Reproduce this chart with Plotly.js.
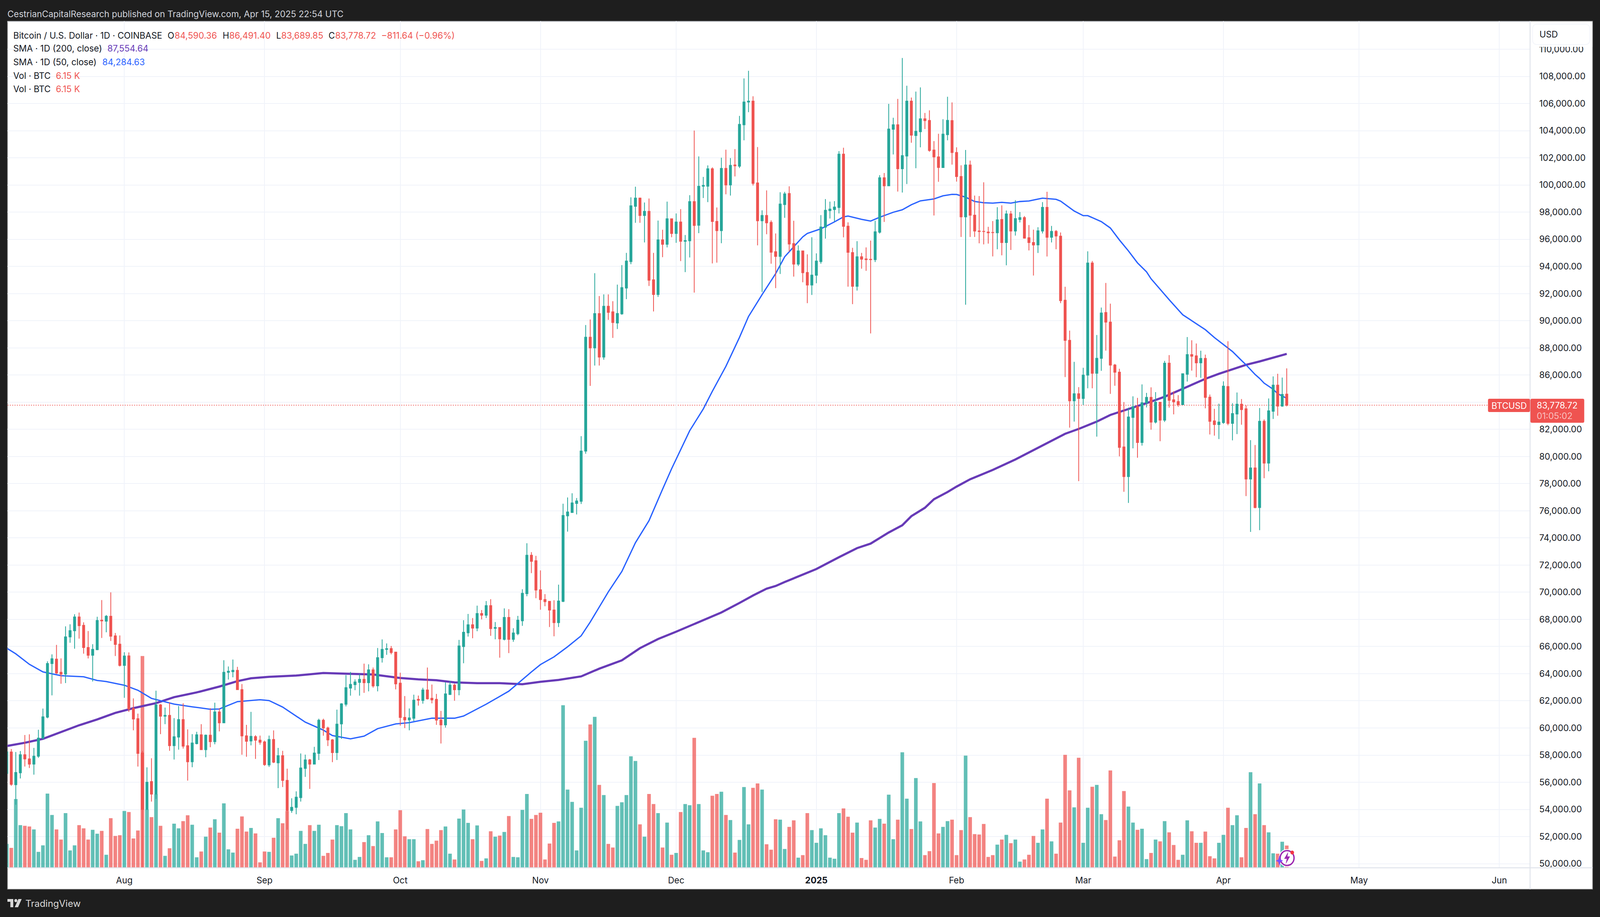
<!DOCTYPE html>
<html><head><meta charset="utf-8">
<script src="https://cdn.plot.ly/plotly-3.0.1.min.js"></script>
<style>html,body{margin:0;padding:0;background:#1e1e1e;overflow:hidden}</style>
</head><body><div id="c"></div>
<script>
// Daily BTC/USD candles, Jul 6 2024 .. Apr 15 2025 (one line per month)
const firstDay = [2024, 6, 6];
const open = [
56650,58230,55820,56700,58030,57720,57340,57920,59250,60800,64750,65070,64100,63970,66710,67160,68180,67560,65930,65360,65770,67940,67870,68230,66780,66170,
64610,65310,61430,60680,58160,54000,56050,55130,61700,60870,60930,58700,59330,60620,58690,57510,58850,59500,58400,59470,58990,61180,60380,64100,64150,64240,62830,59420,59040,59360,59100,
58970,57280,59150,57430,57960,56140,53920,54150,54870,57020,57650,57340,58130,60570,60000,59120,58190,60300,61750,62940,63190,63360,63580,63340,64280,63110,65180,65790,65850,65590,
63300,60780,60600,60720,62110,62030,62800,62190,62110,60580,60230,62470,63160,62820,66000,67010,67600,67360,68430,68310,69010,67340,67400,66530,68140,66530,66950,67900,69900,72720,72320,
70180,69460,69330,68690,67760,69330,75630,75870,76540,76700,80400,88780,88000,90520,87320,91060,90650,89830,90510,92410,94360,98430,99030,97750,98050,93010,91930,95950,95630,97510,
96430,97270,95850,95890,98770,97030,99910,99910,101190,97310,96640,101220,100000,101470,101380,104430,106110,106170,100150,97360,97750,97240,95080,94740,98560,99370,95680,94170,95140,93550,92630,
93350,94360,96890,98110,98190,98340,102270,96960,95020,92540,94710,94550,94520,94500,96520,100530,99940,104100,104430,101200,102130,106170,103640,103920,104870,104750,102570,102070,101280,103710,104740,
102390,100620,97650,101470,97770,96610,96580,96530,96500,96480,97460,95760,97870,96610,97460,97590,96110,95760,95590,96610,98350,96150,96580,96230,91510,88550,84100,84620,
84270,85990,94250,86130,87230,90600,89900,86730,86210,80700,78520,82880,83670,81030,83960,84350,82530,83990,82680,86870,84170,84040,83820,86060,87500,87410,86900,87220,84370,82620,82350,
82500,85150,82440,83130,83850,83510,78340,79150,76240,82590,79510,83330,85250,83710,84590.36];
const high = [
58400,58450,58230,58300,59480,59530,58530,59870,61430,64910,65420,66120,65130,67490,67640,68380,68500,67780,67140,66170,68190,69420,68320,69990,67000,66820,
65580,65570,62180,61060,58320,57100,57770,62750,61770,61500,61880,60730,61620,61820,59900,59550,59720,60280,59520,61460,61860,61450,64990,64530,65040,64500,63240,60230,61190,59470,59440,
59070,59440,59820,58530,58320,57000,54820,55330,58120,58040,57720,58610,60680,60680,60100,59190,61350,61830,63900,64130,63580,63970,64740,64690,64450,65890,66520,66230,66040,65610,
64070,62350,61440,62450,62390,62960,64450,63200,62510,61260,63360,63460,63260,66490,67940,68400,68100,69010,68690,69350,69490,67800,67400,68810,68750,67350,68260,70220,73610,72950,72680,
71610,69860,69350,69410,70560,76520,76980,77290,76940,81500,89680,90090,93500,91820,91940,91940,91440,92660,94100,95000,99090,99870,99070,98710,99000,95000,97380,96700,98770,97530,
97900,98220,96310,99250,104010,102100,100590,101440,101300,98340,102010,102600,101980,102640,105090,107850,108410,106530,102790,98130,99600,97390,96430,99460,99490,99900,97360,95550,95170,94890,96150,
94960,97780,98960,98770,98810,102490,102740,97250,95370,95860,95000,95400,95900,97360,100720,100880,105970,104950,106340,109350,107310,106440,106880,107190,105300,105500,103230,103770,104840,106500,106080,
102770,101450,102580,101790,99220,99180,100200,96920,97340,98360,98500,98120,98090,98880,98000,97710,97050,96710,96890,98740,99500,96980,96680,96500,92500,89270,86970,85110,
86530,95110,94400,88950,90970,92780,91260,86820,86460,84010,83600,84430,84320,85310,84680,85090,84740,83990,87040,87470,84800,84520,86120,88800,88560,88320,87790,87500,84560,83510,83890,
85530,88490,83920,84710,84230,83770,81200,80840,83570,82730,84270,85900,86090,85810,86491.40];
const low = [
56000,55740,54350,56280,57160,57050,56560,57800,59170,60710,62400,63980,63260,63310,66280,65840,66580,65470,65120,63420,65730,66630,67050,66410,65300,64530,
62220,61190,59830,57160,49700,54000,54580,54770,59550,60280,58320,57680,58400,58480,56120,57110,58790,58400,57840,58580,58800,59750,60380,63570,63730,62830,58030,57880,58720,57720,58770,
57210,57130,57410,55570,55650,52510,53750,53640,54580,56400,55510,57360,57640,59430,58670,57480,57640,59200,61590,62380,62780,62380,62590,62700,62970,62700,64820,65390,65420,62840,
60170,59990,59830,60510,61650,61790,62090,61810,60230,58860,60030,62430,62010,62410,64770,66730,66610,67130,68000,68100,66790,66530,65180,66450,65520,66350,66830,67520,69700,71410,69560,
68710,68970,67440,66750,67440,69270,74460,75910,75730,76500,80200,85200,86700,86700,87130,90060,88730,89390,90440,91590,94160,97210,97210,95770,92560,90680,91750,94680,95400,96150,
95740,94390,93580,94660,92070,96450,99040,98740,94220,94280,95710,99310,99220,100630,101250,103290,105360,99960,95550,92120,96370,94200,92400,93440,97580,95080,93250,94030,92830,91290,91900,
92760,94200,96050,97530,97310,97900,96140,92510,91220,92220,93830,93670,89060,94320,96420,97280,99930,102250,99510,99440,100070,103110,101230,102770,104120,102450,97750,100230,101280,103290,101500,
100250,96170,91180,96170,96170,95700,95620,95680,94740,95260,94820,94080,95210,96270,97240,96050,95180,93330,94990,96430,94730,95770,95260,91290,85850,82120,82570,78180,
83790,85020,85020,81460,86310,87800,84610,85210,80010,77400,76580,80600,79910,80800,83610,81970,82430,81120,82540,83600,83100,83660,83790,85520,86320,85840,85800,83550,81620,81530,81280,
82400,82300,81190,81650,82340,77080,74440,76180,74570,78400,78910,82760,83000,83660,83689.85];
const close = [
58240,55850,56720,58030,57720,57340,57920,59250,60820,64750,65100,64050,63970,66710,67170,68180,67540,65930,65360,65790,67920,67890,68230,66760,66160,64610,
65300,61400,60660,58130,54000,56000,55130,61700,60870,60930,58700,59350,60620,58660,57510,58890,59500,58400,59470,58990,61180,60380,64100,64180,64240,62830,59420,59020,59380,59100,58950,
57300,59150,57480,57960,56140,53920,54150,54900,57050,57650,57340,58150,60570,60000,59120,58190,60280,61780,62970,63210,63390,63580,63340,64280,63100,65180,65790,65840,65560,63250,
60780,60600,60740,62050,62050,62800,62150,62070,60580,60230,62510,63160,62820,66040,67050,67600,67360,68430,68310,69010,67320,67400,66570,68140,66530,67000,67940,69920,72720,72280,70160,
69460,69310,68690,67760,69350,75650,75910,76580,76720,80400,88780,88000,90520,87320,91060,90620,89870,90530,92440,94390,98460,99030,97750,98050,92980,91930,95950,95630,97510,96430,
97270,95850,95900,98770,97020,99900,99970,101190,97310,96640,101220,100000,101440,101410,104460,106110,106170,100120,97360,97750,97210,95050,94740,98590,99340,95650,94170,95140,93540,92630,93360,
94390,96900,98130,98220,98370,102270,96950,95040,92540,94710,94540,94500,94500,96550,100530,99940,104120,104430,101200,102160,106170,103670,103950,104870,104740,102540,102070,101290,103740,104760,102390,
100620,97650,101470,97770,96610,96570,96570,96480,96490,97430,95760,97870,96610,97520,97590,96080,95760,95580,96620,98350,96150,96580,96240,91480,88550,84100,84620,84270,
85990,94250,86130,87230,90570,89900,86730,86210,80670,78520,82910,83660,81030,83960,84350,82530,83990,82680,86870,84140,84020,83820,86090,87500,87390,86900,87220,84350,82590,82350,82530,
85180,82440,83160,83850,83450,78340,79150,76240,82590,79510,83360,85250,83710,84570,83778.72];
// Volume in thousands of BTC
const volumeK = [
6.6,5.5,19.0,11.8,11.6,11.4,10.6,4.4,6.2,20.5,14.6,10.6,7.8,15.1,4.8,6.2,11.8,10.9,7.8,10.5,9.4,10.2,3.6,13.7,8.8,9.0,
15.7,15.4,8.1,10.3,58.5,16.1,14.0,20.3,11.6,3.3,5.4,12.2,10.9,12.9,14.5,11.9,2.9,4.5,8.6,11.1,13.4,9.7,17.8,5.1,4.2,10.8,14.2,10.0,11.0,9.5,1.5,
4.5,4.4,8.3,13.7,12.3,15.7,3.4,3.9,10.2,6.6,11.8,10.2,11.9,3.3,4.1,7.8,11.8,11.5,15.1,10.6,2.2,3.0,7.1,9.0,6.0,12.8,9.6,2.9,2.9,10.6,
15.9,8.7,7.9,7.9,1.8,2.1,10.7,6.6,7.5,10.4,11.4,3.9,2.3,13.6,16.1,12.4,7.9,11.7,1.9,2.6,10.1,8.6,8.9,9.9,14.3,3.0,2.9,16.0,20.4,13.5,14.6,
15.2,2.3,6.7,12.4,12.8,44.9,21.6,18.2,4.8,16.6,35.1,39.6,41.7,22.9,20.1,6.6,5.6,17.1,18.1,20.1,30.8,29.5,12.0,8.6,20.4,17.6,15.1,5.6,12.5,3.6,
4.1,15.4,17.6,17.3,35.9,17.6,4.8,4.3,19.9,20.4,21.0,14.6,13.2,4.2,7.7,22.3,12.0,22.1,23.3,21.6,6.5,5.0,13.4,13.3,5.2,11.3,13.1,2.8,3.5,15.1,10.4,
6.9,10.9,9.0,2.8,2.5,15.1,16.4,14.1,9.7,12.5,2.7,2.2,13.1,11.1,13.5,12.2,20.2,7.9,13.3,31.9,19.1,10.7,24.8,12.8,3.5,4.6,23.4,9.5,11.3,12.9,13.3,
3.5,10.4,31.0,14.0,9.3,9.2,12.1,3.0,3.5,6.4,7.8,9.1,6.8,7.8,1.7,2.3,3.6,8.8,6.9,10.6,19.1,7.3,3.9,12.5,31.2,21.4,16.7,30.4,
6.9,16.6,22.4,22.9,14.8,13.2,26.9,3.1,7.6,21.2,16.9,12.5,10.5,10.8,2.4,4.1,7.8,7.3,12.9,9.8,6.3,2.2,3.6,13.1,10.1,6.9,6.9,10.0,3.2,2.6,6.9,
9.1,16.6,11.8,14.5,2.9,11.0,26.4,14.8,23.3,11.8,9.8,4.0,3.9,7.2,6.15];

// SMA(50)
const sma50Dates = ["2024-07-06","2024-07-08","2024-07-11","2024-07-14","2024-07-18","2024-07-23","2024-07-26","2024-07-28","2024-08-01","2024-08-04","2024-08-07","2024-08-12","2024-08-16","2024-08-20","2024-08-22","2024-08-24","2024-08-26","2024-08-31","2024-09-02","2024-09-05","2024-09-10","2024-09-14","2024-09-16","2024-09-20","2024-09-23","2024-09-26","2024-09-30","2024-10-03","2024-10-08","2024-10-13","2024-10-15","2024-10-20","2024-10-25","2024-10-30","2024-11-01","2024-11-04","2024-11-07","2024-11-10","2024-11-12","2024-11-16","2024-11-19","2024-11-22","2024-11-25","2024-11-28","2024-11-30","2024-12-04","2024-12-07","2024-12-09","2024-12-12","2024-12-15","2024-12-17","2024-12-20","2024-12-23","2024-12-25","2024-12-27","2024-12-29","2024-12-30","2025-01-02","2025-01-05","2025-01-07","2025-01-08","2025-01-11","2025-01-13","2025-01-15","2025-01-18","2025-01-20","2025-01-22","2025-01-24","2025-01-27","2025-01-29","2025-01-31","2025-02-01","2025-02-03","2025-02-05","2025-02-07","2025-02-09","2025-02-11","2025-02-13","2025-02-15","2025-02-17","2025-02-20","2025-02-23","2025-02-24","2025-02-27","2025-03-01","2025-03-02","2025-03-05","2025-03-07","2025-03-09","2025-03-11","2025-03-13","2025-03-15","2025-03-16","2025-03-18","2025-03-20","2025-03-22","2025-03-23","2025-03-26","2025-03-28","2025-03-30","2025-04-01","2025-04-03","2025-04-05","2025-04-06","2025-04-08","2025-04-09","2025-04-10","2025-04-12","2025-04-13","2025-04-15"];
const sma50Values = [65880,65460,64690,64130,63850,63770,63500,63420,63150,62780,62180,61760,61560,61380,61400,61670,61940,62080,62020,61540,60430,59840,59440,59200,59400,59950,60300,60390,60720,60720,60880,61750,62710,64130,64670,65240,65980,66790,67800,70020,71530,73650,75270,77590,79100,81900,83500,84800,86640,88770,90310,91920,93470,94710,95450,96180,96430,96770,97280,97650,97710,97470,97340,97620,97990,98170,98540,98830,98970,99200,99310,99300,99100,98780,98690,98660,98720,98660,98780,98820,99030,98940,98810,98080,97740,97740,97300,96830,95950,95140,94260,93600,93090,92310,91550,90810,90440,89780,89340,88760,88240,87730,87070,86750,86040,85750,85400,84950,84620,84284.63];
// SMA(200)
const sma200Dates = ["2024-07-06","2024-07-10","2024-07-14","2024-07-18","2024-07-22","2024-07-26","2024-07-30","2024-08-03","2024-08-08","2024-08-12","2024-08-17","2024-08-22","2024-08-26","2024-08-29","2024-09-02","2024-09-08","2024-09-14","2024-09-19","2024-09-25","2024-10-01","2024-10-05","2024-10-09","2024-10-13","2024-10-18","2024-10-23","2024-10-28","2024-11-01","2024-11-05","2024-11-10","2024-11-14","2024-11-19","2024-11-23","2024-11-27","2024-12-01","2024-12-06","2024-12-11","2024-12-15","2024-12-18","2024-12-21","2024-12-23","2024-12-25","2024-12-27","2025-01-01","2025-01-06","2025-01-10","2025-01-13","2025-01-17","2025-01-20","2025-01-22","2025-01-25","2025-01-27","2025-01-30","2025-02-01","2025-02-04","2025-02-09","2025-02-14","2025-02-19","2025-02-23","2025-02-25","2025-02-28","2025-03-01","2025-03-04","2025-03-07","2025-03-10","2025-03-13","2025-03-16","2025-03-19","2025-03-22","2025-03-25","2025-03-28","2025-03-31","2025-04-03","2025-04-06","2025-04-09","2025-04-12","2025-04-15"];
const sma200Values = [58670,58910,59200,59720,60200,60630,61110,61460,61830,62270,62620,63050,63450,63660,63770,63860,64050,64000,63940,63680,63580,63520,63360,63300,63300,63220,63400,63540,63800,64370,64980,65880,66550,67090,67800,68510,69210,69760,70260,70460,70750,71020,71710,72580,73250,73580,74400,74930,75600,76220,76850,77380,77780,78320,79010,79780,80640,81360,81670,82030,82160,82570,83060,83380,83720,84040,84400,84840,85280,85720,86090,86430,86750,87000,87260,87554.64];

const monthTickDates = ["2024-08-01","2024-09-01","2024-10-01","2024-11-01","2024-12-01","2025-01-01","2025-02-01","2025-03-01","2025-04-01","2025-05-01","2025-06-01"];
const monthTickLabels = ["Aug","Sep","Oct","Nov","Dec","<b>2025</b>","Feb","Mar","Apr","May","Jun"];
const priceTicks = [50000,52000,54000,56000,58000,60000,62000,64000,66000,68000,70000,72000,74000,76000,78000,80000,82000,84000,86000,88000,90000,92000,94000,96000,98000,100000,102000,104000,106000,108000,110000,112000];
const lastPrice = 83778.72;

const UP="#26a69a", DOWN="#ef5350", INK="#131722", FRAME="#1e1e1e", GRID="#f0f3fa", AXIS="#e0e3eb";
const FONT="Inter, 'Noto Sans', sans-serif";
// The browser window is narrower than the reference; coordinates below are reference pixels, mapped to the real width.
const W=window.innerWidth||4096,H=2348,SX=W/4372,L=20,R=4181,T=54,B=2222,RP=4352,BP=2277;
const X=x=>(x-L)/(R-L), Y=y=>1-(y-T)/(B-T);
const dates = open.map((_,i)=>new Date(Date.UTC(firstDay[0],firstDay[1],firstDay[2]+i)).toISOString().slice(0,10));

const priceRange=[49701,112071];
const traces=[
 {type:"bar",x:dates,y:volumeK,yaxis:"y",xaxis:"x",hoverinfo:"skip",
  marker:{color:close.map((c,i)=>c<open[i]?DOWN:UP),opacity:0.72,line:{width:0}}},
 {type:"scatter",mode:"lines",x:sma200Dates,y:sma200Values,yaxis:"y2",line:{color:"#673ab7",width:5.5,shape:"linear"},hoverinfo:"skip"},
 {type:"scatter",mode:"lines",x:sma50Dates,y:sma50Values,yaxis:"y2",line:{color:"#2962ff",width:3.3,shape:"linear"},hoverinfo:"skip"},
 {type:"candlestick",x:dates,open,high,low,close,yaxis:"y3",xaxis:"x",whiskerwidth:0,hoverinfo:"skip",
  increasing:{line:{color:UP,width:2},fillcolor:UP},decreasing:{line:{color:DOWN,width:2},fillcolor:DOWN}}
];

const rr=(x0,y0,x1,y1,r)=>{const P=(x,y)=>X(x)+","+Y(y);
 return "M"+P(x0+r,y0)+"L"+P(x1-r,y0)+"Q"+P(x1,y0)+" "+P(x1,y0+r)+"L"+P(x1,y1-r)+"Q"+P(x1,y1)+" "+P(x1-r,y1)+"L"+P(x0+r,y1)+"Q"+P(x0,y1)+" "+P(x0,y1-r)+"L"+P(x0,y0+r)+"Q"+P(x0,y0)+" "+P(x0+r,y0)+"Z";};
const poly=pts=>"M"+pts.map(p=>X(p[0])+","+Y(p[1])).join("L")+"Z";
const box=(x0,y0,x1,y1,fill,layer,lineColor,lw)=>({type:"rect",xref:"paper",yref:"paper",x0:X(x0),x1:X(x1),y0:Y(y1),y1:Y(y0),fillcolor:fill,layer:layer||"below",line:{width:lw||0,color:lineColor||"rgba(0,0,0,0)"}});
const seg=(x0,y0,x1,y1,c,w,layer)=>({type:"line",xref:"paper",yref:"paper",x0:X(x0),x1:X(x1),y0:Y(y0),y1:Y(y1),layer:layer||"below",line:{color:c,width:w}});
const path=(d,fill,layer,lc,lw)=>({type:"path",xref:"paper",yref:"paper",path:d,fillcolor:fill,layer:layer||"above",line:{width:lw||0,color:lc||"rgba(0,0,0,0)"}});
const circ=(cx,cy,r,fill,lc,lw)=>({type:"circle",xref:"paper",yref:"paper",x0:X(cx-r),x1:X(cx+r),y0:Y(cy+r),y1:Y(cy-r),fillcolor:fill,layer:"above",line:{width:lw||0,color:lc||"rgba(0,0,0,0)"}});

const shapes=[
 box(L,T,RP,BP,"#ffffff","below","#6f6f6f",1.5),
 box(4183,56,4351,120,"#ffffff","above"),
 seg(L,B,RP,B,AXIS,2.5,"above"),
 seg(R,T,R,BP,AXIS,2.5,"above"),
 {type:"line",xref:"paper",yref:"y3",x0:0,x1:1,y0:lastPrice,y1:lastPrice,layer:"between",line:{color:DOWN,width:1.6,dash:"dot"}},
 path(rr(4188,62,4344,114,12),"#ffffff","above","#f0f3fa",1.5),
 path(rr(4066,1021,4181,1055,4),DOWN),
 path(rr(4182,1021,4329,1082.5,4),DOWN),
 circ(3517,2197,23,"#ffffff"),
 circ(3517,2197,19,"#ffffff","#9c27b0",3.5),
 path(poly([[3520,2181],[3509,2199],[3516,2199],[3513,2213],[3525,2193],[3518,2193]]),"#9c27b0"),
 path(poly([[3496,2190],[3499,2201],[3506,2204],[3499,2207],[3496,2218],[3493,2207],[3486,2204],[3493,2201]]),"#7c4dff"),
 circ(3531,2183,5,"#f23645"),
 path(poly([[20,2302],[36,2302],[36,2323],[28,2323],[28,2309],[20,2309]]),"#d8d8d8"),
 circ(43,2306,4,"#d8d8d8"),
 path(poly([[50,2302],[59,2302],[49,2323],[40,2323]]),"#d8d8d8")
];

const FS=22.4;
const txt=(x,y,t,c,s,anchor)=>({xref:"paper",yref:"paper",x:X(x),y:Y(y),text:t,showarrow:false,xanchor:anchor||"left",yanchor:"middle",align:"left",font:{family:FONT,size:s||FS,color:c||INK},borderpad:0,borderwidth:0});
const annotations=[
 txt(20,36,"CestrianCapitalResearch published on TradingView.com, Apr 15, 2025 22:54 UTC","#d1d4dc"),
 txt(36,90,"Bitcoin / U.S. Dollar · 1D · COINBASE"),
 txt(458,90,"O"),txt(477,90,"84,590.36",DOWN),
 txt(608,90,"H"),txt(626,90,"86,491.40",DOWN),
 txt(754,90,"L"),txt(768,90,"83,689.85",DOWN),
 txt(897,90,"C"),txt(916,90,"83,778.72",DOWN),
 txt(1042,90,"−811.64 (−0.96%)",DOWN),
 txt(36,124,"SMA · 1D (200, close)"),txt(293,124,"87,554.64","#673ab7"),
 txt(36,158,"SMA · 1D (50, close)"),txt(279,158,"84,284.63","#2962ff"),
 txt(36,193,"Vol · BTC"),txt(152,193,"6.15 K",DOWN),
 txt(36,227,"Vol · BTC"),txt(152,227,"6.15 K",DOWN),
 txt(4207,88,"USD",INK),
 txt(4075,1038,"BTCUSD","#ffffff"),
 txt(4199,1037,"83,778.72","#ffffff"),
 txt(4199,1064,"01:05:02","rgba(255,255,255,0.65)"),
 txt(69,2313,"TradingView","#d8d8d8",24)
];

const layout={
 width:W,height:H,margin:{l:L*SX,r:(4372-R)*SX,t:T,b:H-B,pad:0,autoexpand:false},
 paper_bgcolor:FRAME,plot_bgcolor:"#ffffff",showlegend:false,bargap:0.2,boxgap:0.345,dragmode:false,
 font:{family:FONT,color:INK,size:FS},
 xaxis:{type:"date",range:["2024-07-06 03:36","2025-06-07 19:12"],rangeslider:{visible:false},tickmode:"array",tickvals:monthTickDates,ticktext:monthTickLabels,
  showgrid:true,gridcolor:GRID,gridwidth:2,zeroline:false,showline:false,ticks:"outside",ticklen:12,tickcolor:"rgba(0,0,0,0)",tickfont:{family:FONT,size:FS,color:INK}},
 yaxis:{range:[0,233.9],visible:false,fixedrange:true},
 yaxis2:{range:priceRange,overlaying:"y",visible:false,fixedrange:true},
 yaxis3:{range:priceRange,overlaying:"y",side:"right",tickmode:"array",tickvals:priceTicks,
  ticktext:priceTicks.map(v=>v>110000?"":v.toLocaleString("en-US",{minimumFractionDigits:2})),
  showgrid:true,gridcolor:GRID,gridwidth:2,zeroline:false,showline:false,ticks:"outside",ticklen:18,tickcolor:"rgba(0,0,0,0)",tickfont:{family:FONT,size:FS,color:INK},fixedrange:true},
 shapes,annotations
};
Plotly.newPlot("c",traces,layout,{staticPlot:true,displayModeBar:false});
</script></body></html>
